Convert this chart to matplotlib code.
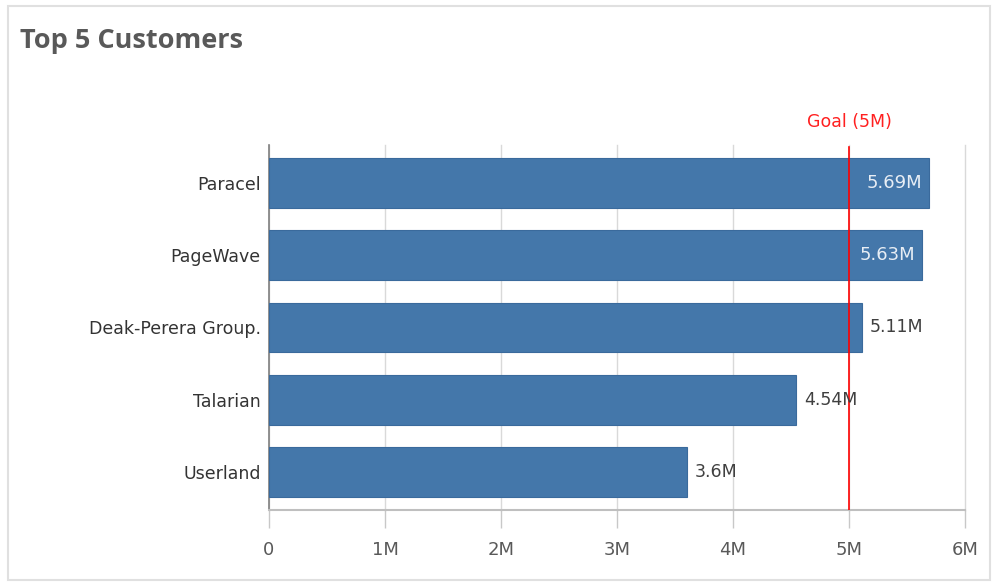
import matplotlib
matplotlib.use("Agg")
import matplotlib.pyplot as plt
from matplotlib.patches import Rectangle

# Chart data
customers = ["Paracel", "PageWave", "Deak-Perera Group.", "Talarian", "Userland"]
sales = [5.69, 5.63, 5.11, 4.54, 3.6]
value_labels = ["5.69M", "5.63M", "5.11M", "4.54M", "3.6M"]
goal = 5.0
goal_label = "Goal (5M)"
x_ticks = [0, 1, 2, 3, 4, 5, 6]
x_tick_labels = ["0", "1M", "2M", "3M", "4M", "5M", "6M"]

bar_color = "#4477aa"
text_gray = "#595959"

fig = plt.figure(figsize=(9.97, 5.82), dpi=100)

# card border
fig.patches.append(Rectangle((8 / 997, 2 / 582), 982 / 997, 574 / 582, transform=fig.transFigure,
                             fill=False, edgecolor="#e0e0e0", linewidth=1.5))

fig.text(20 / 997, 1 - 41 / 582, "Top 5 Customers", fontsize=19.5, fontweight="bold",
         color=text_gray, va="center", ha="left", family="Open Sans")

ax = fig.add_axes([269 / 997, 72 / 582, 696 / 997, 365 / 582])

y = list(range(len(customers)))
ax.barh(y, sales, height=0.69, color=bar_color, edgecolor="#3a6a9c", linewidth=0.8, zorder=3)

ax.set_xlim(0, 6)
ax.set_ylim(4.52, -0.52)
ax.set_yticks(y)
ax.set_yticklabels(customers, fontsize=12.5, color="#333333")
ax.set_xticks(x_ticks)
ax.set_xticklabels(x_tick_labels, fontsize=13, color=text_gray)

ax.grid(axis="x", color="#d9d9d9", linewidth=1, zorder=0)
for gl in ax.get_xgridlines():
    gl.set_clip_on(False)
ax.tick_params(axis="x", length=13, width=1, color="#c8c8c8", pad=9)
ax.tick_params(axis="y", length=0, pad=6)
for side in ["top", "right"]:
    ax.spines[side].set_visible(False)
ax.spines["bottom"].set_color("#bfbfbf")
ax.spines["bottom"].set_linewidth(1.5)
ax.spines["left"].set_color("#7f7f7f")
ax.spines["left"].set_linewidth(1.2)

# goal line
ax.axvline(goal, color="#ff0000", linewidth=1.2, ymax=0.995, zorder=4)
ax.text(goal, -0.72, goal_label, color="#ff2020", fontsize=12.5, ha="center", va="bottom",
        clip_on=False)

# value labels
for yi, v, lab in zip(y, sales, value_labels):
    if v > 5.5:
        ax.text(v - 0.06, yi, lab, color="#e8eef5", fontsize=13, ha="right", va="center", zorder=5)
    else:
        ax.text(v + 0.07, yi, lab, color="#404040", fontsize=12.5, ha="left", va="center", zorder=5)

fig.savefig("out.png", dpi=100)
